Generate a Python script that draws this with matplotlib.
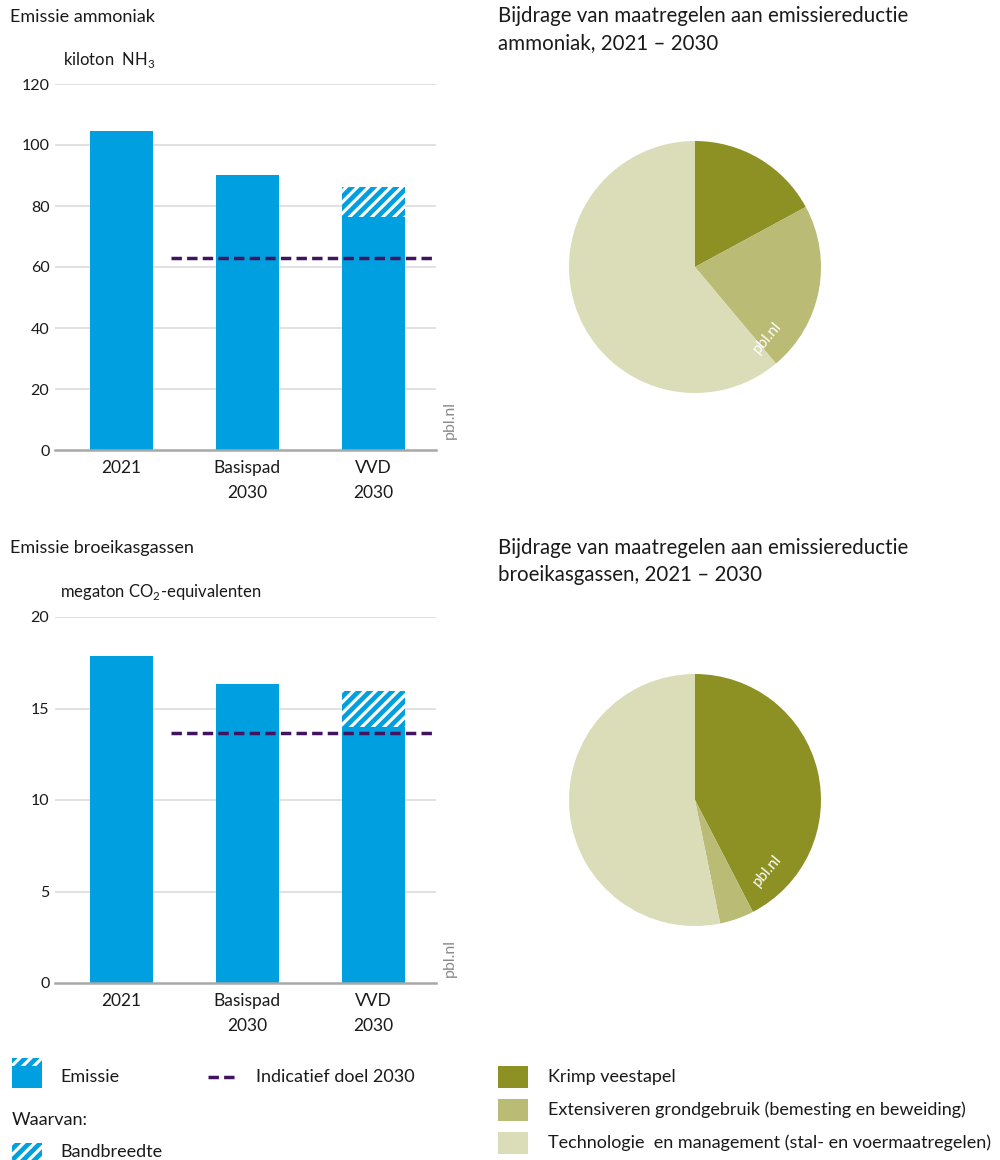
import matplotlib
matplotlib.use("Agg")
import matplotlib.pyplot as plt
from matplotlib.patches import Rectangle
from matplotlib.lines import Line2D

plt.rcParams['font.family'] = ['Lato', 'DejaVu Sans']
plt.rcParams['mathtext.fontset'] = 'custom'
plt.rcParams['mathtext.rm'] = 'Lato'
plt.rcParams['hatch.linewidth'] = 2.3
plt.rcParams['hatch.color'] = 'white'

# ---------------- data ----------------
categories = ["2021", "Basispad\n2030", "VVD\n2030"]

nh3_emission = [104.6, 90.2, 86.2]
nh3_lower = [104.6, 90.2, 76.5]       # bottom of bandwidth
nh3_target = 63.0

ghg_emission = [17.85, 16.35, 15.95]
ghg_lower = [17.85, 16.35, 14.0]
ghg_target = 13.65

pie_labels = ["Krimp veestapel",
              "Extensiveren grondgebruik (bemesting en beweiding)",
              "Technologie  en management (stal- en voermaatregelen)"]
nh3_pie = [17.1, 21.8, 61.1]
ghg_pie = [42.4, 4.4, 53.2]

BLUE = "#009fdf"
PURPLE = "#42145f"
pie_colors = ["#8d9124", "#babb75", "#dbdcb8"]
GRID = "#dcdcdc"
TEXT = "#1a1a1a"
HATCH = '///'

W, H = 1000, 1160
fig = plt.figure(figsize=(W / 100, H / 100), dpi=100)


def ax_px(left, top, right, bottom):
    return fig.add_axes([left / W, 1 - bottom / H, (right - left) / W, (bottom - top) / H])


def bar_panel(ax, emission, lower, target, ymax, yticks):
    x = list(range(len(categories)))
    solid = [lo for lo in lower]
    band = [e - lo for e, lo in zip(emission, lower)]
    ax.bar(x, solid, width=0.5, color=BLUE, linewidth=0, zorder=2)
    ax.bar(x, band, bottom=solid, width=0.5, color=BLUE, edgecolor='white',
           hatch=HATCH, linewidth=0, zorder=2)
    ax.plot([0.39, 2.5], [target, target], color=PURPLE, lw=2.5,
            dashes=(3.0, 1.5), zorder=3)
    ax.set_xlim(-0.53, 2.5)
    ax.set_ylim(0, ymax)
    ax.set_yticks(yticks)
    ax.set_yticklabels([str(t) for t in yticks], fontsize=11.5, color=TEXT)
    ax.set_xticks(x)
    ax.set_xticklabels(categories, fontsize=12.5, color=TEXT, linespacing=1.7)
    ax.tick_params(axis='both', length=0)
    ax.tick_params(axis='y', pad=4)
    ax.tick_params(axis='x', pad=7)
    for ln in yticks[1:]:
        ax.axhline(ln, color=GRID, lw=1.2, zorder=1)
    for s in ['top', 'right', 'left']:
        ax.spines[s].set_visible(False)
    ax.spines['bottom'].set_color("#a8a8a8")
    ax.spines['bottom'].set_linewidth(1.8)
    ax.spines['bottom'].set_zorder(4)


ax1 = ax_px(55, 84, 436, 450)
bar_panel(ax1, nh3_emission, nh3_lower, nh3_target, 120, [0, 20, 40, 60, 80, 100, 120])

ax2 = ax_px(55, 617, 436, 983)
bar_panel(ax2, ghg_emission, ghg_lower, ghg_target, 20, [0, 5, 10, 15, 20])


def pie_panel(ax, vals):
    ax.pie(vals, colors=pie_colors, startangle=90, counterclock=False,
           radius=1, wedgeprops=dict(linewidth=0))
    ax.set_xlim(-1, 1)
    ax.set_ylim(-1, 1)
    ax.set_aspect('equal')
    ax.axis('off')
    ax.text(0.57, -0.56, "pbl.nl", color='white', fontsize=11, rotation=50,
            ha='center', va='center')


ax3 = ax_px(569, 141, 821, 393)
pie_panel(ax3, nh3_pie)
ax4 = ax_px(569, 674, 821, 926)
pie_panel(ax4, ghg_pie)

# ---------------- overlay for texts & legend ----------------
ov = fig.add_axes([0, 0, 1, 1], zorder=-1)
ov.set_xlim(0, W)
ov.set_ylim(H, 0)
ov.axis('off')

ov.text(10, 17, "Emissie ammoniak", fontsize=13, color=TEXT, va='center')
ov.text(63, 60, r"kiloton  NH$_\mathregular{3}$", fontsize=12, color=TEXT, va='center')
ov.text(498, 6, "Bijdrage van maatregelen aan emissiereductie\nammoniak, 2021 \u2013 2030",
        fontsize=14.8, color=TEXT, va='top', linespacing=1.42)
ov.text(10, 548, "Emissie broeikasgassen", fontsize=13, color=TEXT, va='center')
ov.text(60, 592, r"megaton CO$_\mathregular{2}$-equivalenten", fontsize=12, color=TEXT, va='center')
ov.text(498, 538, "Bijdrage van maatregelen aan emissiereductie\nbroeikasgassen, 2021 \u2013 2030",
        fontsize=14.8, color=TEXT, va='top', linespacing=1.42)

ov.text(450, 420, "pbl.nl", rotation=90, color="#8a8a8a", fontsize=11.5, ha='center', va='center')
ov.text(450, 958, "pbl.nl", rotation=90, color="#8a8a8a", fontsize=11.5, ha='center', va='center')

# legend left
lfs = 13
ov.add_patch(Rectangle((12, 1066), 30, 22, facecolor=BLUE, lw=0))
ov.add_patch(Rectangle((12, 1058), 30, 8, facecolor=BLUE, edgecolor='white', hatch=HATCH, lw=0))
ov.text(60, 1077, "Emissie", fontsize=lfs, color=TEXT, va='center')
ov.add_line(Line2D([208, 238], [1077, 1077], color=PURPLE, lw=2.5, dashes=(3.0, 1.5)))
ov.text(256, 1077, "Indicatief doel 2030", fontsize=lfs, color=TEXT, va='center')
ov.text(12, 1120, "Waarvan:", fontsize=lfs, color=TEXT, va='center')
ov.add_patch(Rectangle((12, 1143), 30, 17, facecolor=BLUE, edgecolor='white', hatch=HATCH, lw=0))
ov.text(60, 1152, "Bandbreedte", fontsize=lfs, color=TEXT, va='center')

# legend right
for i, (lab, col) in enumerate(zip(pie_labels, pie_colors)):
    yc = 1077 + i * 33
    ov.add_patch(Rectangle((498, yc - 11), 30, 22, facecolor=col, lw=0))
    ov.text(548, yc, lab, fontsize=lfs, color=TEXT, va='center')

fig.savefig("out.png", dpi=100)
